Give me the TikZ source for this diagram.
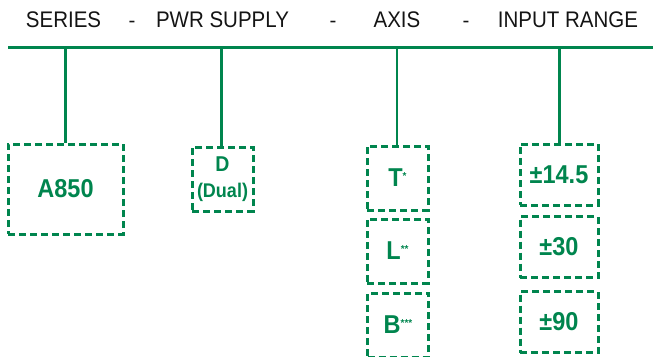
\documentclass[tikz,border=0pt]{standalone}
\usepackage{fontspec}
\setmainfont{Liberation Sans}
\definecolor{grn}{RGB}{0,133,78}
\definecolor{ink}{RGB}{20,20,20}
\newcommand{\stars}[1]{\raisebox{0.3em}{\fontsize{10}{10}\selectfont #1}}
\newcommand{\tall}[1]{\scalebox{1}[1.1]{#1}}
\begin{document}
\begin{tikzpicture}[x=1pt,y=-1pt,
  hdr/.style={text=ink,font=\fontsize{20.5}{20}\selectfont,inner sep=0pt,anchor=base},
  optbox/.style={draw=grn,line width=3pt,dash pattern=on 7pt off 4pt,text=grn,
    font=\bfseries\fontsize{23.5}{24}\selectfont,inner sep=0pt,align=center,anchor=center},
  stem/.style={draw=grn,line width=2.4pt},
  bar/.style={draw=grn,line width=3pt}]
\useasboundingbox (0,0) rectangle (653,356);
% header texts
\node[hdr] (hs) at (63.5,27.5) {\tall{SERIES}};
\node[hdr] (d1) at (132,27.5) {-};
\node[hdr] (hp) at (222.5,27.5) {\tall{PWR SUPPLY}};
\node[hdr] (d2) at (333,27.5) {-};
\node[hdr] (ha) at (397,27.5) {\tall{AXIS}};
\node[hdr] (d3) at (466,27.5) {-};
\node[hdr] (hi) at (568,27.5) {\tall{INPUT RANGE}};
% header bar
\coordinate (bl) at (8,47);
\coordinate (br) at (655,47);
\coordinate (sA) at (65.5,47);
\coordinate (sD) at (221.5,47);
\coordinate (sT) at (397,47);
\coordinate (sR) at (559.5,47);
\draw[bar] (bl) -- (br);
% boxes
\node[optbox,minimum width=115pt,minimum height=90pt] (a850) at (65.5,189) {\tall{A850}};
\node[optbox,minimum width=61pt,minimum height=64pt] (dual) at (222.5,179)
  {\fontsize{19.5}{21}\selectfont\tall{D}\\[2pt]\fontsize{18}{19}\selectfont\tall{(Dual)}};
\node[optbox,minimum width=61pt,minimum height=64pt] (axT) at (397.5,178) {\tall{T}\stars{*}};
\node[optbox,minimum width=61pt,minimum height=64pt] (axL) at (397.5,251) {\tall{L}\stars{**}};
\node[optbox,minimum width=61pt,minimum height=64pt] (axB) at (398,325) {\tall{B}\stars{***}};
\node[optbox,minimum width=78pt,minimum height=61pt] (r1) at (559,174.5) {\tall{±14.5}};
\node[optbox,minimum width=78pt,minimum height=61pt] (r2) at (559,247) {\tall{±30}};
\node[optbox,minimum width=78pt,minimum height=61pt] (r3) at (559,322) {\tall{±90}};
% stems
\draw[stem] (sA) -- (sA |- a850.north);
\draw[stem] (sD) -- (sD |- dual.north);
\draw[stem] (sT) -- (sT |- axT.north);
\draw[stem] (sR) -- (sR |- r1.north);
\end{tikzpicture}
\end{document}
